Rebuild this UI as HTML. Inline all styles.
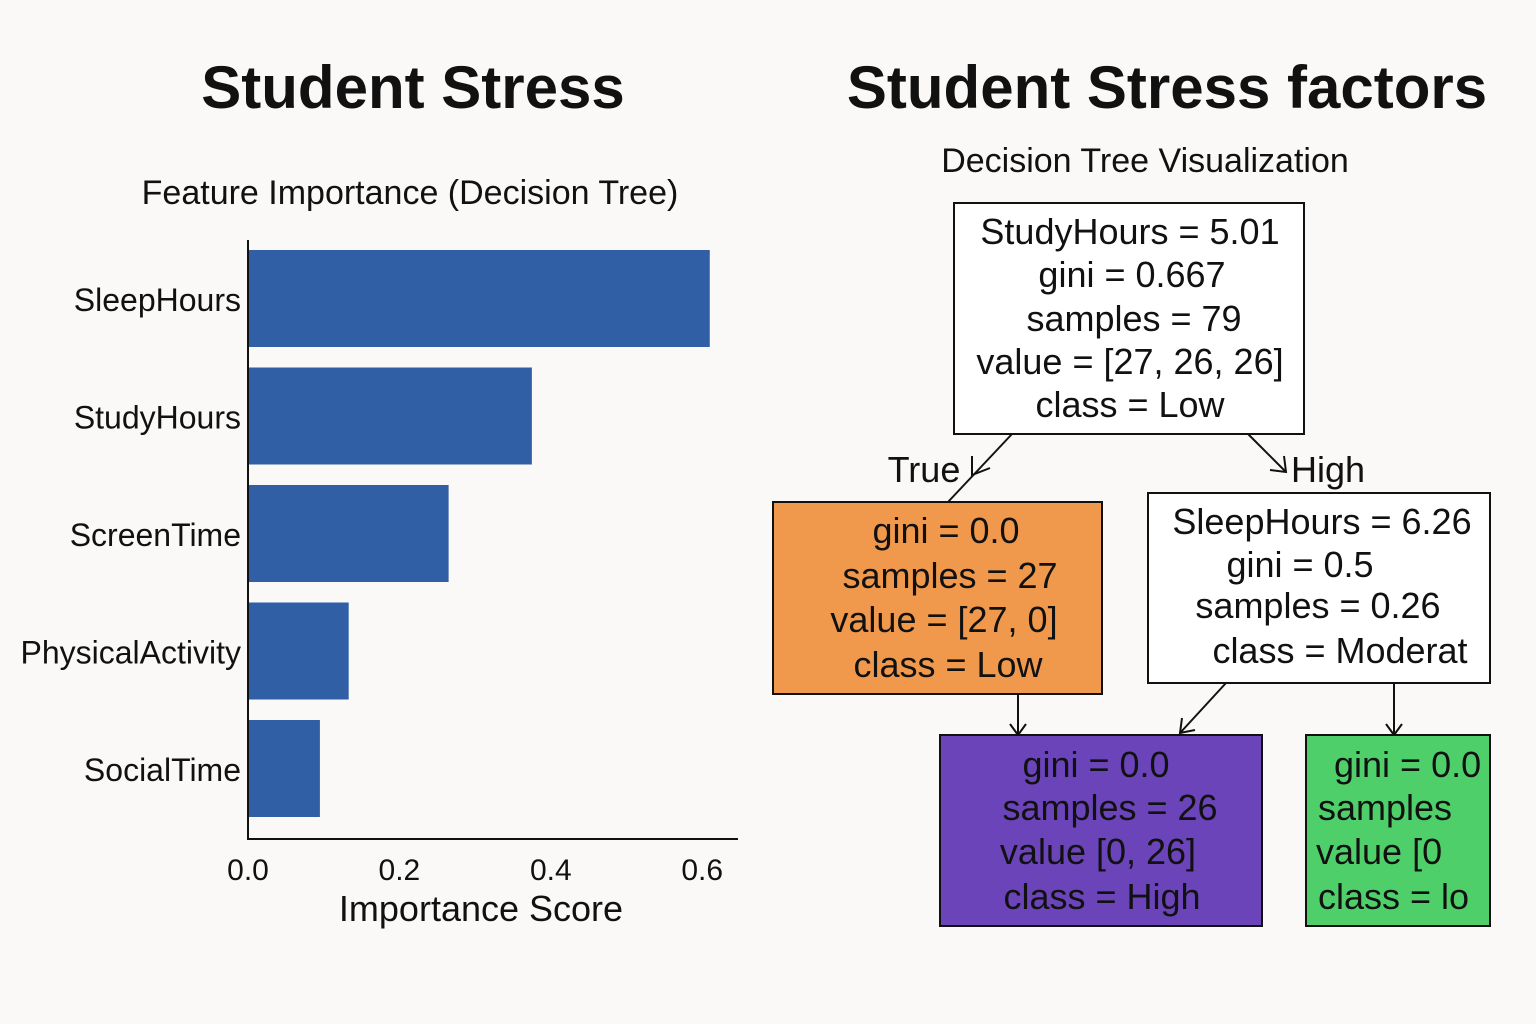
<!DOCTYPE html>
<html><head><meta charset="utf-8">
<style>
body{margin:0;background:#faf9f7;}
svg{display:block;font-family:"Liberation Sans","DejaVu Sans",sans-serif;}
</style></head>
<body>
<svg width="1536" height="1024" viewBox="0 0 1536 1024">
<rect width="1536" height="1024" fill="#faf9f7"/>
<text x="413" y="108" font-size="60" font-weight="bold" text-anchor="middle" fill="#111">Student Stress</text>
<text x="1167" y="108" font-size="60" font-weight="bold" text-anchor="middle" fill="#111">Student Stress factors</text>
<text x="410" y="204" font-size="34" text-anchor="middle" fill="#111">Feature Importance (Decision Tree)</text>
<text x="1145" y="172" font-size="34" text-anchor="middle" fill="#111">Decision Tree Visualization</text>
<g id="chart"></g>

<g stroke="#111" stroke-width="2" fill="none">
<line x1="1012" y1="434" x2="948" y2="502"/>
<polyline points="972,456 972,475 990,468"/>
<line x1="1248" y1="434" x2="1286" y2="472"/>
<polyline points="1270,470 1286,472 1284,456"/>
<line x1="1018" y1="694" x2="1018" y2="735"/>
<polyline points="1010,724 1018,735 1026,724"/>
<line x1="1226" y1="683" x2="1180" y2="733"/>
<polyline points="1182,718 1180,733 1195,730"/>
<line x1="1394" y1="683" x2="1394" y2="735"/>
<polyline points="1386,724 1394,735 1402,724"/>
</g>
<g font-size="36" text-anchor="middle" fill="#111">
<text x="924" y="482">True</text>
<text x="1328" y="482">High</text>
<g>
<rect x="954" y="203" width="350" height="231" fill="#fff" stroke="#111" stroke-width="2"/>
<text x="1130" y="244">StudyHours = 5.01</text>
<text x="1132" y="287">gini = 0.667</text>
<text x="1134" y="331">samples = 79</text>
<text x="1130" y="374">value = [27, 26, 26]</text>
<text x="1130" y="417">class = Low</text>
</g>
<g>
<rect x="773" y="502" width="329" height="192" fill="#f0994c" stroke="#111" stroke-width="2"/>
<text x="946" y="543">gini = 0.0</text>
<text x="950" y="588">samples = 27</text>
<text x="944" y="632">value = [27, 0]</text>
<text x="948" y="677">class = Low</text>
</g>
<g>
<rect x="1148" y="493" width="342" height="190" fill="#fff" stroke="#111" stroke-width="2"/>
<text x="1322" y="534">SleepHours = 6.26</text>
<text x="1300" y="577">gini = 0.5</text>
<text x="1318" y="618">samples = 0.26</text>
<text x="1340" y="663">class = Moderat</text>
</g>
<g>
<rect x="940" y="735" width="322" height="191" fill="#6a44b8" stroke="#111" stroke-width="2"/>
<text x="1096" y="777">gini = 0.0</text>
<text x="1110" y="820">samples = 26</text>
<text x="1098" y="864">value [0, 26]</text>
<text x="1102" y="909">class = High</text>
</g>
<g text-anchor="start">
<rect x="1306" y="735" width="184" height="191" fill="#4fcf6a" stroke="#111" stroke-width="2"/>
<text x="1334" y="777">gini = 0.0</text>
<text x="1318" y="820">samples</text>
<text x="1316" y="864">value [0</text>
<text x="1318" y="909">class = lo</text>
</g>
</g>
</svg>
<script>
const categories=["SleepHours","StudyHours","ScreenTime","PhysicalActivity","SocialTime"];
const importance=[0.61,0.375,0.265,0.133,0.095];
const tickValues=[0,0.2,0.4,0.6];
const tickLabels=["0.0","0.2","0.4","0.6"];
const NS="http://www.w3.org/2000/svg";
const g=document.getElementById("chart");
const x0=248, scale=757;
const xs=v=>x0+v*scale;
const ys=i=>250+i*117.5;
function mk(t,a,p){const e=document.createElementNS(NS,t);for(const k in a)e.setAttribute(k,a[k]);(p||g).appendChild(e);return e;}
categories.forEach((c,i)=>{
 const r=mk("rect",{x:xs(0),y:ys(i),width:xs(importance[i])-xs(0),height:97,fill:"#315fa5"});
 
 
 const t=mk("text",{x:241,y:ys(i)+61,"font-size":32,"text-anchor":"end",fill:"#111"});
 t.textContent=c;
 
 
});
const ya=mk("line",{x1:248,y1:240,x2:248,y2:840,stroke:"#111","stroke-width":2});


const xa=mk("line",{x1:247,y1:839,x2:738,y2:839,stroke:"#111","stroke-width":2});


tickValues.forEach((v,i)=>{
 const t=mk("text",{x:xs(v),y:880,"font-size":30,"text-anchor":"middle",fill:"#111"});
 t.textContent=tickLabels[i];
 
 
});
const xt=mk("text",{x:481,y:921,"font-size":36,"text-anchor":"middle",fill:"#111"});
xt.textContent="Importance Score";


</script>
</body></html>
